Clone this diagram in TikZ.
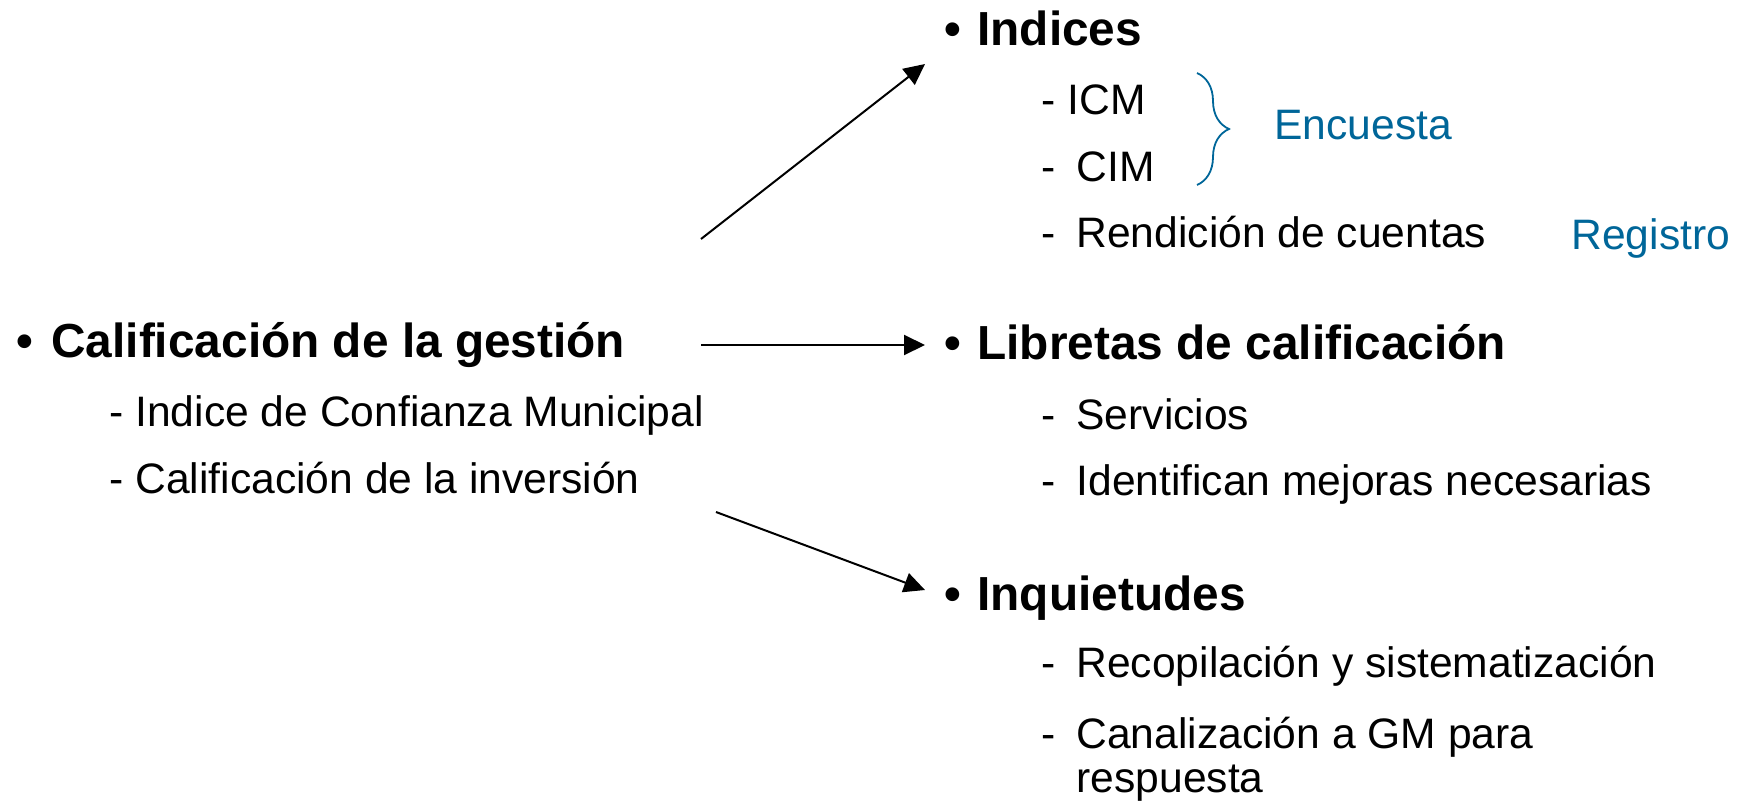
\documentclass[tikz,border=0pt]{standalone}
\usepackage{fontspec}
\setmainfont{Liberation Sans}
\usetikzlibrary{arrows.meta,decorations.pathreplacing}
\definecolor{encblue}{RGB}{0,102,153}

\begin{document}
\begin{tikzpicture}[x=0.5pt,y=-0.5pt]
	\tikzset{>={Triangle[length=10.5pt,width=10pt]}}
	\tikzset{head/.style={anchor=base west,inner sep=0pt,font=\bfseries\fontsize{23.9}{26}\selectfont},
		bul/.style={anchor=base,inner sep=0pt,font=\bfseries\fontsize{23.9}{26}\selectfont},
		item/.style={anchor=base west,inner sep=0pt,align=left,font=\fontsize{21.3}{21.6}\selectfont},
		note/.style={item,text=encblue}}
	\useasboundingbox (0,0) rectangle (1744,803);
	% left block
	\node[bul] (b0) at (25,357) {•};
	\node[head] (gestion) at (51,357) {Calificación de la gestión};
	\node[item] (icm0) at (109,426) {- Indice de Confianza Municipal};
	\node[item] (inv) at (109,493) {- Calificación de la inversión};
	% indices
	\node[bul] (b1) at (953,45) {•};
	\node[head] (indices) at (977,45) {Indices};
	\node[item] (icm) at (1041,114) {- ICM};
	\node[item] (cim) at (1041,181) {-\hspace{0.49em}CIM};
	\node[item] (rend) at (1041,247) {-\hspace{0.49em}Rendición de cuentas};
	\draw[encblue,line width=0.9pt,decorate,decoration={brace,amplitude=16pt}] (1197,73) -- (1197,185);
	\node[note] (enc) at (1274,139) {Encuesta};
	\node[note] (reg) at (1571,249) {Registro};
	% libretas
	\node[bul] (b2) at (953,359) {•};
	\node[head] (libretas) at (977,359) {Libretas de calificación};
	\node[item] (serv) at (1041,429) {-\hspace{0.49em}Servicios};
	\node[item] (mej) at (1041,495) {-\hspace{0.49em}Identifican mejoras necesarias};
	% inquietudes
	\node[bul] (b3) at (953,610) {•};
	\node[head] (inq) at (977,610) {Inquietudes};
	\node[item] (rec) at (1041,677) {-\hspace{0.49em}Recopilación y sistematización};
	\node[item] (can) at (1041,792) {-\hspace{0.49em}Canalización a GM para\\\phantom{-}\hspace{0.49em}respuesta};
	% arrows
	\coordinate (s1) at (701,239);
	\coordinate (s2) at (701,345);
	\coordinate (s3) at (716,512);
	\coordinate (e1) at (925,64);
	\coordinate (e2) at (925,345);
	\coordinate (e3) at (925,590);
	\draw[->,line width=1pt] (s1) -- (e1);
	\draw[->,line width=1pt] (s2) -- (e2);
	\draw[->,line width=1pt] (s3) -- (e3);
\end{tikzpicture}
\end{document}
